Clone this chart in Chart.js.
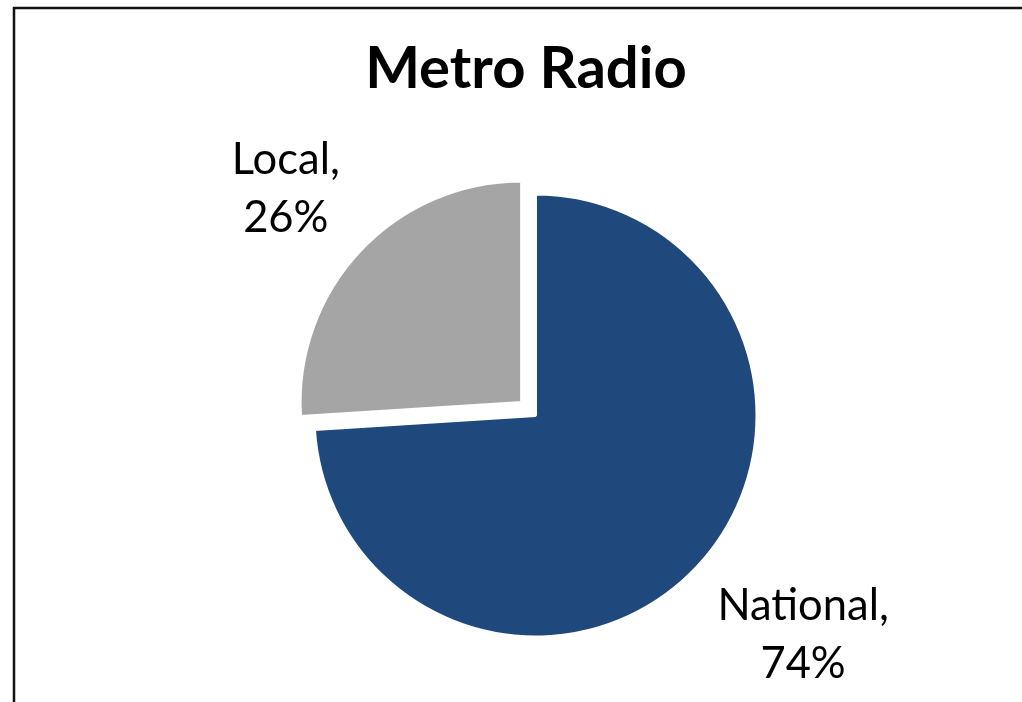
<!DOCTYPE html>
<html>
<head>
<meta charset="utf-8">
<title>Metro Radio</title>
<script src="https://cdn.jsdelivr.net/npm/chart.js@4.4.1/dist/chart.umd.min.js"></script>
<style>
  html, body { margin: 0; padding: 0; background: #fff; }
  canvas { display: block; }
</style>
</head>
<body>
<canvas id="chart-metro" width="1022" height="702"></canvas>
<script>
// Datos del gráfico
const chartTitle = 'Metro Radio';
const categorias = ['National', 'Local'];
const porcentajes = [74, 26];
const colores = ['#1F497D', '#A5A5A5'];
// Chart.js v4 desplaza la porción offset/4 píxeles
const separacion = [0, 76];

// Marco del gráfico (solo bordes izquierdo y superior visibles)
const marcoPlugin = {
  id: 'marco',
  beforeDraw(chart) {
    const ctx = chart.ctx;
    ctx.save();
    ctx.strokeStyle = '#111';
    ctx.lineWidth = 2.5;
    ctx.beginPath();
    ctx.moveTo(14, chart.height);
    ctx.lineTo(14, 8);
    ctx.lineTo(chart.width, 8);
    ctx.stroke();
    ctx.restore();
  }
};

// Título y etiquetas "Categoría, NN%" fuera de cada porción
const etiquetasPlugin = {
  id: 'etiquetas',
  afterDraw(chart) {
    const ctx = chart.ctx;
    ctx.save();
    ctx.fillStyle = '#000';

    ctx.font = 'bold 58px Lato';
    ctx.textAlign = 'center';
    ctx.textBaseline = 'alphabetic';
    ctx.fillText(chartTitle, 526, 88);

    const meta = chart.getDatasetMeta(0);
    const lh = 57.5;
    const ascent = 34;
    ctx.font = '43.5px Lato';
    meta.data.forEach((arc, i) => {
      const p = arc.getProps(['x', 'y', 'startAngle', 'endAngle', 'outerRadius'], true);
      const mid = (p.startAngle + p.endAngle) / 2;
      const dx = Math.cos(mid);
      const dy = Math.sin(mid);
      const desp = (arc.options.offset || 0) / 4;
      const dist = desp + p.outerRadius + 28;
      const ax = p.x + dx * dist;
      const ay = p.y + dy * dist;
      const lineas = [categorias[i] + ',', porcentajes[i] + '%'];
      const ancho = Math.max(...lineas.map(t => ctx.measureText(t).width));
      const alto = (lineas.length - 1) * lh + ascent;
      const izq = dx >= 0 ? ax : ax - ancho;
      const arriba = dy >= 0 ? ay : ay - alto;
      ctx.textAlign = 'center';
      lineas.forEach((t, j) => {
        ctx.fillText(t, izq + ancho / 2, arriba + ascent + j * lh);
      });
    });
    ctx.restore();
  }
};

const ctx = document.getElementById('chart-metro');
new Chart(ctx, {
  type: 'pie',
  data: {
    labels: categorias,
    datasets: [{
      data: porcentajes,
      backgroundColor: colores,
      borderColor: '#FFFFFF',
      borderWidth: 3,
      offset: separacion
    }]
  },
  options: {
    responsive: false,
    animation: false,
    radius: 221.5,
    layout: {
      padding: { left: 295.5, right: 246.5, top: 175.5, bottom: 46.5 }
    },
    plugins: {
      legend: { display: false },
      tooltip: { enabled: false },
      title: { display: false }
    }
  },
  plugins: [marcoPlugin, etiquetasPlugin]
});
</script>
</body>
</html>
